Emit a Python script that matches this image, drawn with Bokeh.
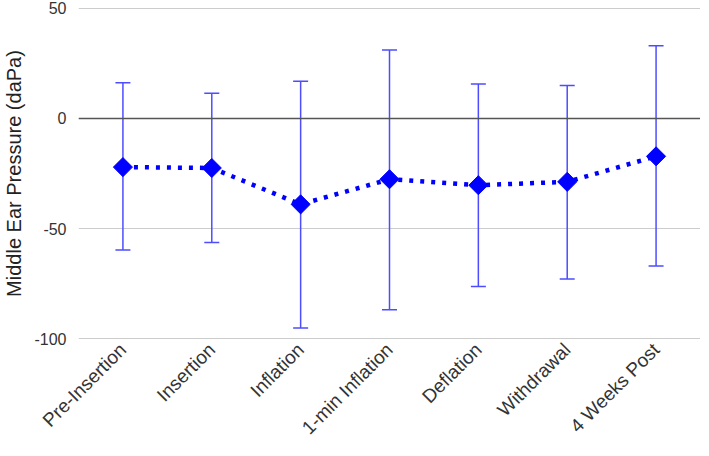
import numpy as np
from bokeh.plotting import figure
from bokeh.models import ColumnDataSource, Whisker, TeeHead, Range1d, FixedTicker, Span
from bokeh.embed import file_html
from bokeh.resources import INLINE

stages = ["Pre-Insertion", "Insertion", "Inflation", "1-min Inflation", "Deflation", "Withdrawal", "4 Weeks Post"]
mean_pressure = [-22.1, -22.5, -39.0, -27.6, -30.3, -28.8, -17.2]
upper_bound = [16.2, 11.4, 16.9, 31.0, 15.6, 14.9, 33.0]
lower_bound = [-59.7, -56.3, -95.1, -86.8, -76.3, -72.9, -67.0]
y_ticks = [-100, -50, 0, 50]
y_tick_labels = ["-100", "-50", "0", "50"]

src = ColumnDataSource(dict(x=stages, y=mean_pressure, upper=upper_bound, lower=lower_bound))

FONT = "Liberation Sans"

p = figure(width=700, height=448, x_range=stages, y_range=Range1d(-100.8, 50.8),
           output_backend="svg", toolbar_location=None,
           min_border_top=6, min_border_right=0, min_border_left=40, min_border_bottom=0)
p.outline_line_color = None
p.background_fill_color = "white"

# grid
p.xgrid.grid_line_color = None
p.ygrid.grid_line_color = "#cccccc"
p.ygrid.grid_line_width = 1
p.yaxis.ticker = FixedTicker(ticks=y_ticks)
p.yaxis.major_label_overrides = {t: s for t, s in zip(y_ticks, y_tick_labels)}

zero = Span(location=0, dimension="width", line_color="#555555", line_width=1.5)
p.add_layout(zero)

# error bars
wh = Whisker(source=src, base="x", upper="upper", lower="lower",
             line_color="#4d4dff", line_width=1.5,
             upper_head=TeeHead(size=15, line_color="#4d4dff", line_width=1.5),
             lower_head=TeeHead(size=15, line_color="#4d4dff", line_width=1.5))
p.add_layout(wh)

# dotted line + diamonds
p.line("x", "y", source=src, line_color="#0000ff", line_width=4.5, line_dash="4 7")
p.scatter("x", "y", source=src, marker="square", size=13.5, angle=np.pi / 4,
          fill_color="#0000ff", line_color="#0000ff")

# axes
for ax in (p.xaxis, p.yaxis):
    ax.axis_line_color = None
    ax.major_tick_line_color = None
    ax.minor_tick_line_color = None
    ax.major_label_text_font = FONT
    ax.major_label_text_color = "#333333"

p.xaxis.major_label_orientation = np.pi / 4
p.xaxis.major_label_text_font_size = "19px"
p.xaxis.major_label_standoff = 0
p.yaxis.major_label_text_font_size = "16px"
p.yaxis.major_label_standoff = 6

p.yaxis.axis_label = "Middle Ear Pressure (daPa)"
p.yaxis.axis_label_text_font = FONT
p.yaxis.axis_label_text_font_size = "20px"
p.yaxis.axis_label_text_font_style = "normal"
p.yaxis.axis_label_text_color = "#222222"
p.yaxis.axis_label_standoff = 6

open("out.html", "w").write(file_html(p, INLINE))
